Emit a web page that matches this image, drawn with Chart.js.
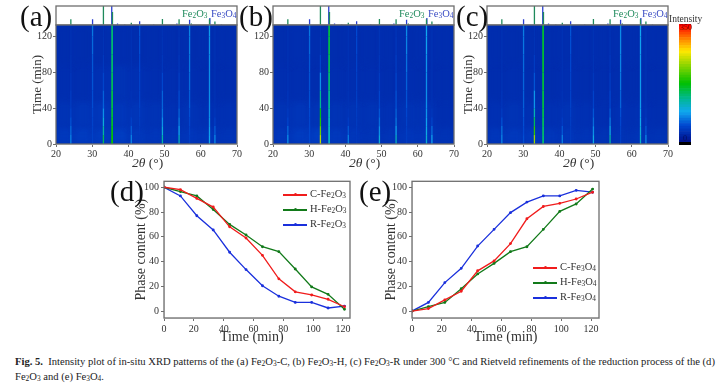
<!DOCTYPE html>
<html>
<head>
<meta charset="utf-8">
<script src="https://cdn.jsdelivr.net/npm/chart.js@4"></script>
<style>
  body { margin: 0; background: #fff; width: 723px; height: 386px; overflow: hidden; position: relative;
         font-family: "Liberation Serif", serif; color: #222; }
  canvas { position: absolute; }
  .t { position: absolute; white-space: nowrap; line-height: 1; }
  .panel { font-size: 29px; color: #111; }
  .fe2 { font-size: 10.5px; color: #1f8a5c; }
  .fe3 { font-size: 10.5px; color: #3a4cc4; }
  .xt { font-size: 13.5px; color: #333; }
  .leg { font-size: 10.5px; color: #333; }
  .swatch { position: absolute; height: 1.5px; width: 24px; }
  .dot { position: absolute; width: 3px; height: 3px; border-radius: 50%; }
  sub { font-size: 70%; line-height: 0; vertical-align: -0.2em; }
  #cap { font-size: 10.6px; color: #222; line-height: 14.5px; left: 15px; top: 355px; }
</style>
</head>
<body>
<canvas id="stripA"></canvas><canvas id="heatA"></canvas>
<canvas id="stripB"></canvas><canvas id="heatB"></canvas>
<canvas id="stripC"></canvas><canvas id="heatC"></canvas>
<canvas id="scaleBar"></canvas>
<canvas id="lineD"></canvas><canvas id="lineE"></canvas>

<div class="t panel" style="left:20px;top:2px">(a)</div>
<div class="t panel" style="left:239px;top:2px">(b)</div>
<div class="t panel" style="left:456px;top:2px">(c)</div>
<div class="t panel" style="left:110px;top:177px">(d)</div>
<div class="t panel" style="left:359px;top:177px">(e)</div>

<div class="t fe2" style="left:182px;top:9px">Fe<sub>2</sub>O<sub>3</sub></div>
<div class="t fe3" style="left:211px;top:9px">Fe<sub>3</sub>O<sub>4</sub></div>
<div class="t fe2" style="left:399px;top:9px">Fe<sub>2</sub>O<sub>3</sub></div>
<div class="t fe3" style="left:428px;top:9px">Fe<sub>3</sub>O<sub>4</sub></div>
<div class="t fe2" style="left:613px;top:9px">Fe<sub>2</sub>O<sub>3</sub></div>
<div class="t fe3" style="left:642px;top:9px">Fe<sub>3</sub>O<sub>4</sub></div>

<div class="t xt" style="left:132px;top:156px"><i>2θ</i> (°)</div>
<div class="t xt" style="left:349px;top:156px"><i>2θ</i> (°)</div>
<div class="t xt" style="left:563px;top:156px"><i>2θ</i> (°)</div>

<div class="t" style="left:669px;top:15px;font-size:9.5px;color:#333">Intensity</div>
<div class="t" style="left:680px;top:24px;font-size:8px;color:#7a0000">350</div>
<div class="t" style="left:683px;top:135px;font-size:8px;color:#001060">0</div>

<div id="legendD"></div>
<div id="legendE"></div>

<div class="t" id="cap"><b>Fig. 5.</b>&nbsp; Intensity plot of in-situ XRD patterns of the (a) Fe<sub>2</sub>O<sub>3</sub>-C, (b) Fe<sub>2</sub>O<sub>3</sub>-H, (c) Fe<sub>2</sub>O<sub>3</sub>-R under 300 °C and Rietveld refinements of the reduction process of the (d)<br>Fe<sub>2</sub>O<sub>3</sub> and (e) Fe<sub>3</sub>O<sub>4</sub>.</div>

<script>
// stick patterns above the maps, relative intensity
const fe2o3Angles = [24.1, 33.1, 35.6, 40.8, 49.4, 54.0, 57.4, 62.4, 63.9];
const fe2o3Rel = [30, 100, 68, 12, 32, 30, 8, 30, 18];
const fe3o4Angles = [30.1, 35.4, 37.0, 39.0, 43.1, 47.0, 53.4, 56.9, 62.5, 65.7];
const fe3o4Rel = [30, 100, 8, 3, 20, 2, 8, 27, 37, 3];

// in-situ maps: intensity of each reflection at each time row
const mapTimes = [0, 10, 20, 30, 40, 60, 80, 100, 120, 133];
const streakAngles = [24.1, 30.1, 33.1, 35.5, 40.8, 43.1, 49.4, 54.0, 56.9, 62.4, 63.9];
const streakA = [
  [80, 70, 60, 48, 42, 36, 32, 30, 30, 30],
  [45, 42, 45, 45, 48, 55, 55, 58, 70, 70],
  [160, 135, 110, 90, 70, 52, 40, 32, 30, 30],
  [180, 175, 165, 160, 155, 150, 145, 140, 140, 140],
  [80, 70, 48, 38, 32, 30, 30, 30, 30, 30],
  [36, 36, 38, 40, 42, 45, 45, 50, 55, 55],
  [135, 110, 90, 70, 65, 58, 36, 32, 30, 30],
  [125, 100, 80, 65, 58, 45, 38, 32, 30, 30],
  [40, 42, 45, 50, 55, 62, 68, 72, 75, 75],
  [90, 90, 85, 80, 80, 80, 80, 80, 85, 85],
  [85, 70, 48, 36, 32, 30, 30, 30, 30, 30]
];
const streakB = [
  [85, 75, 52, 40, 36, 32, 30, 30, 30, 30],
  [48, 48, 48, 48, 52, 55, 55, 58, 70, 70],
  [255, 235, 195, 180, 155, 105, 55, 36, 30, 30],
  [110, 110, 110, 115, 125, 135, 145, 150, 155, 155],
  [80, 68, 45, 36, 32, 30, 30, 30, 30, 30],
  [36, 36, 38, 38, 40, 42, 42, 46, 50, 50],
  [110, 90, 70, 60, 52, 42, 36, 32, 32, 32],
  [120, 100, 75, 65, 58, 50, 42, 36, 32, 32],
  [40, 40, 42, 45, 50, 58, 62, 72, 78, 78],
  [105, 100, 90, 85, 80, 80, 80, 85, 90, 90],
  [95, 80, 52, 38, 32, 30, 30, 30, 30, 30]
];
const streakC = [
  [80, 72, 65, 42, 36, 32, 30, 30, 30, 30],
  [55, 50, 50, 55, 58, 62, 62, 68, 72, 72],
  [245, 220, 165, 130, 100, 65, 45, 32, 30, 30],
  [140, 140, 145, 150, 155, 155, 160, 160, 160, 160],
  [80, 68, 45, 36, 32, 30, 30, 30, 30, 30],
  [38, 38, 38, 42, 42, 45, 45, 50, 55, 55],
  [100, 90, 70, 60, 52, 38, 32, 30, 30, 30],
  [130, 110, 80, 65, 52, 42, 36, 32, 30, 30],
  [42, 42, 45, 50, 55, 68, 72, 78, 78, 78],
  [110, 105, 95, 90, 85, 85, 85, 85, 90, 90],
  [85, 68, 45, 36, 32, 30, 30, 30, 30, 30]
];

// slowly varying background level of the maps
const bgAngles = [20, 25, 30, 35, 40, 45, 50, 55, 60, 65, 70];
const bgTimes = [0, 20, 50, 90, 133];
const bgA = [
  [36, 38, 38, 40, 36, 34, 32, 34, 34, 32],
  [31, 33, 34, 34, 33, 31, 29, 31, 29, 29],
  [27, 27, 29, 31, 29, 27, 27, 27, 26, 26],
  [26, 26, 26, 27, 26, 26, 26, 26, 26, 26]
];
const bgB = [
  [34, 38, 40, 36, 34, 32, 32, 34, 34, 31],
  [31, 33, 31, 31, 31, 31, 29, 31, 31, 27],
  [27, 27, 26, 27, 27, 27, 26, 27, 26, 26],
  [26, 27, 26, 26, 26, 26, 26, 26, 26, 26]
];
const bgC = [
  [34, 36, 36, 34, 34, 32, 31, 31, 32, 31],
  [29, 31, 29, 29, 31, 29, 27, 29, 29, 27],
  [26, 27, 26, 26, 27, 26, 26, 26, 26, 26],
  [26, 26, 26, 26, 26, 26, 26, 26, 26, 26]
];

// refinement results
const refineTimes = [0, 11, 22, 33, 44, 55, 66, 77, 88, 99, 110, 121];
const cFe2o3 = [100, 98, 91, 84, 68, 59, 45, 26, 15.5, 13, 9.5, 3.5];
const hFe2o3 = [100, 96.5, 93, 82, 70, 61.5, 52, 48, 34, 19.5, 13.5, 1.5];
const rFe2o3 = [100, 93, 77, 65.5, 47.5, 33.5, 20.5, 12, 7, 7, 2.5, 4];
const cFe3o4 = [0, 2, 9, 16, 32.5, 40.5, 54.5, 74.5, 84.5, 87, 90.5, 96];
const hFe3o4 = [0, 3.5, 7, 18, 30, 38.5, 48, 52, 66, 80.5, 86.5, 98.5];
const rFe3o4 = [0, 7, 23, 34.5, 52.5, 66, 79.5, 88, 93, 93, 97.5, 96];

const angleTicks = [20, 30, 40, 50, 60, 70];
const timeTicks = [0, 40, 80, 120];
const refineXTicks = [0, 20, 40, 60, 80, 100, 120];
const phaseTicks = [0, 20, 40, 60, 80, 100];

// colour bar stops: intensity, rgb
const cmapLevels = [0, 50, 90, 130, 175, 235, 270, 305, 340, 350];
const cmapColors = [[0,16,138],[0,72,208],[16,168,240],[0,184,144],[0,192,0],[160,216,0],[255,232,0],[255,136,0],[255,24,0],[255,0,0]];

const fontFamily = '"Liberation Serif", serif';
const frameColor = '#6e6e6e';
const tickColor = '#333';

function intensityColor(v) {
  let i = 0;
  while (i < cmapLevels.length - 2 && v > cmapLevels[i + 1]) i++;
  const f = Math.min(1, Math.max(0, (v - cmapLevels[i]) / (cmapLevels[i + 1] - cmapLevels[i])));
  const c = cmapColors[i].map((a, k) => Math.round(a + (cmapColors[i + 1][k] - a) * f));
  return `rgb(${c[0]},${c[1]},${c[2]})`;
}

function place(id, left, top, width, height) {
  const c = document.getElementById(id);
  c.width = width;
  c.height = height;
  c.style.left = left + 'px';
  c.style.top = top + 'px';
  return c;
}

// chart.js adds half a tick label of padding, which would move the plot area
function noPadding(s) {
  s.paddingTop = 0;
  s.paddingBottom = 0;
  s.paddingLeft = 0;
  s.paddingRight = 0;
}

// grey box round the plot area
const framePlugin = {
  id: 'frame',
  afterDraw(chart) {
    const a = chart.chartArea, ctx = chart.ctx;
    ctx.save();
    ctx.strokeStyle = frameColor;
    ctx.lineWidth = 1.3;
    ctx.strokeRect(a.left, a.top, a.right - a.left, a.bottom - a.top);
    ctx.restore();
  }
};

// background cells of the map, placed through the chart's scales
const mapBackground = {
  id: 'mapBackground',
  beforeDatasetsDraw(chart, args, opts) {
    const ctx = chart.ctx, x = chart.scales.x, y = chart.scales.y, a = chart.chartArea;
    ctx.save();
    ctx.fillStyle = intensityColor(28);
    ctx.fillRect(a.left, a.top, a.right - a.left, a.bottom - a.top);
    ctx.beginPath();
    ctx.rect(a.left, a.top, a.right - a.left, a.bottom - a.top);
    ctx.clip();
    ctx.filter = 'blur(3px)';
    opts.rows.forEach((row, r) => {
      row.forEach((v, c) => {
        const x0 = x.getPixelForValue(bgAngles[c]), x1 = x.getPixelForValue(bgAngles[c + 1]);
        const y0 = y.getPixelForValue(bgTimes[r]), y1 = y.getPixelForValue(bgTimes[r + 1]);
        ctx.fillStyle = intensityColor(v);
        ctx.fillRect(x0, y1, x1 - x0 + 0.5, y0 - y1 + 0.5);
      });
    });
    ctx.restore();
    // soften the reflections a little
    ctx.filter = 'blur(0.5px)';
  },
  afterDatasetsDraw(chart) {
    chart.ctx.filter = 'none';
  }
};

function stickData(angles, rel) {
  const pts = [];
  angles.forEach((a, i) => {
    pts.push({ x: a, y: 0 }, { x: a, y: rel[i] }, { x: a, y: null });
  });
  return pts;
}

function makeStrip(id, left) {
  const c = place(id, left - 1, 5, 183, 21);
  new Chart(c, {
    type: 'scatter',
    data: {
      datasets: [
        { data: stickData(fe2o3Angles, fe2o3Rel), showLine: true, borderColor: '#1f8a5c', borderWidth: 1.3, pointRadius: 0, spanGaps: false },
        { data: stickData(fe3o4Angles, fe3o4Rel), showLine: true, borderColor: '#2a3fd0', borderWidth: 1.3, pointRadius: 0, spanGaps: false }
      ]
    },
    options: {
      responsive: false, animation: false, devicePixelRatio: 1,
      layout: { padding: 1 },
      plugins: { legend: { display: false }, tooltip: { enabled: false } },
      scales: {
        x: { display: false, min: 20, max: 70 },
        y: { display: false, min: 0, max: 100 }
      }
    },
    plugins: [framePlugin]
  });
}

function makeHeat(id, left, streaks, bgRows, withTitle) {
  const c = place(id, left - 32, 24, 32 + 181 + 9, 138);
  const datasets = streakAngles.map((a, i) => ({
    data: mapTimes.map((t, k) => ({ x: a, y: t, v: streaks[i][k] })),
    showLine: true,
    pointRadius: 0,
    borderWidth: a === 35.5 ? 1.8 : 1.3,
    segment: { borderColor: ctx => intensityColor((ctx.p0.raw.v + ctx.p1.raw.v) / 2) }
  }));
  new Chart(c, {
    type: 'scatter',
    data: { datasets },
    options: {
      responsive: false, animation: false, devicePixelRatio: 1,
      layout: { padding: { top: 1, right: 9 } },
      plugins: { legend: { display: false }, tooltip: { enabled: false }, mapBackground: { rows: bgRows } },
      scales: {
        x: {
          type: 'linear', min: 20, max: 70,
          afterBuildTicks: s => { s.ticks = angleTicks.map(v => ({ value: v })); },
          afterFit: s => { s.height = 18; noPadding(s); },
          grid: { drawOnChartArea: false, color: frameColor, tickLength: 3 },
          ticks: { color: tickColor, font: { family: fontFamily, size: 10 }, padding: 1, maxRotation: 0 }
        },
        y: {
          type: 'linear', min: 0, max: 133,
          afterBuildTicks: s => { s.ticks = timeTicks.map(v => ({ value: v })); },
          afterFit: s => { s.width = 32; noPadding(s); },
          grid: { drawOnChartArea: false, color: frameColor, tickLength: 3 },
          ticks: { color: tickColor, font: { family: fontFamily, size: 10 }, padding: 1 },
          title: { display: withTitle, text: 'Time (min)', color: tickColor, font: { family: fontFamily, size: 13 }, padding: { top: 6, bottom: 0 } }
        }
      }
    },
    plugins: [mapBackground, framePlugin]
  });
}

function makeColorBar() {
  const c = place('scaleBar', 679, 24, 12, 121);
  const levels = [];
  for (let v = 0; v < 350; v += 8) levels.push(v);
  const datasets = [{ data: [8], backgroundColor: '#000', stack: 's' }].concat(
    levels.map(v => ({ data: [8], backgroundColor: intensityColor(v + 4), stack: 's' }))
  );
  new Chart(c, {
    type: 'bar',
    data: { labels: ['Intensity'], datasets },
    options: {
      responsive: false, animation: false, devicePixelRatio: 1,
      datasets: { bar: { barPercentage: 1, categoryPercentage: 1, borderSkipped: false } },
      plugins: { legend: { display: false }, tooltip: { enabled: false } },
      scales: {
        x: { display: false, stacked: true },
        y: { display: false, stacked: true, min: 0, max: 360 }
      }
    }
  });
}

function makeRefine(id, legendId, left, yWidth, plotWidth, xMax, xTitle, names, series, legendPos) {
  // the layout keeps 4px more at the top here, so the canvas starts higher
  const c = place(id, left, 176, yWidth + plotWidth + 9, 5 + 137 + 31);
  const colors = ['#f01c1c', '#127a1a', '#1a30dc'];
  const chart = new Chart(c, {
    type: 'line',
    data: {
      datasets: series.map((vals, i) => ({
        label: names[i],
        data: vals.map((v, k) => ({ x: refineTimes[k], y: v })),
        borderColor: colors[i],
        backgroundColor: colors[i],
        borderWidth: 1.3,
        pointRadius: 0.8,
        tension: 0
      }))
    },
    options: {
      responsive: false, animation: false, devicePixelRatio: 1,
      layout: { padding: { top: 1, right: 9 } },
      plugins: { legend: { display: false }, tooltip: { enabled: false } },
      scales: {
        x: {
          type: 'linear', min: 0, max: xMax,
          afterBuildTicks: s => { s.ticks = refineXTicks.map(v => ({ value: v })); },
          afterFit: s => { s.height = 31; noPadding(s); },
          grid: { drawOnChartArea: false, color: frameColor, tickLength: 3 },
          ticks: { color: tickColor, font: { family: fontFamily, size: 10 }, padding: 2, maxRotation: 0 },
          title: { display: true, text: xTitle, color: tickColor, font: { family: fontFamily, size: 14 }, padding: { top: 0, bottom: 3 } }
        },
        y: {
          type: 'linear', min: -5.6, max: 104.8,
          afterBuildTicks: s => { s.ticks = phaseTicks.map(v => ({ value: v })); },
          afterFit: s => { s.width = yWidth; noPadding(s); },
          grid: { drawOnChartArea: false, color: frameColor, tickLength: 3 },
          ticks: { color: tickColor, font: { family: fontFamily, size: 10 }, padding: 2 },
          title: { display: true, text: 'Phase content (%)', color: tickColor, font: { family: fontFamily, size: 14 }, padding: { top: 0, bottom: 0 } }
        }
      }
    },
    plugins: [framePlugin]
  });
  // html legend, needs real subscripts
  const box = document.getElementById(legendId);
  chart.data.datasets.forEach((ds, i) => {
    const s = document.createElement('div');
    s.className = 'swatch';
    s.style.left = legendPos.x + 'px';
    s.style.top = legendPos.ys[i] + 'px';
    s.style.background = ds.borderColor;
    box.appendChild(s);
    const d = document.createElement('div');
    d.className = 'dot';
    d.style.left = (legendPos.x + 10.5) + 'px';
    d.style.top = (legendPos.ys[i] - 0.75) + 'px';
    d.style.background = ds.borderColor;
    box.appendChild(d);
    const t = document.createElement('div');
    t.className = 't leg';
    t.style.left = (legendPos.x + 27) + 'px';
    t.style.top = (legendPos.ys[i] - 5) + 'px';
    t.innerHTML = ds.label.replace(/(\d)/g, '<sub>$1</sub>');
    box.appendChild(t);
  });
}

makeStrip('stripA', 56);
makeStrip('stripB', 273);
makeStrip('stripC', 487);
makeHeat('heatA', 56, streakA, bgA, true);
makeHeat('heatB', 273, streakB, bgB, false);
makeHeat('heatC', 487, streakC, bgC, true);
makeColorBar();
makeRefine('lineD', 'legendD', 133, 31, 186, 124.7, 'Time (min)\u00a0\u00a0\u00a0', ['C-Fe2O3', 'H-Fe2O3', 'R-Fe2O3'], [cFe2o3, hFe2o3, rFe2o3], { x: 283, ys: [194, 209, 224] });
makeRefine('lineE', 'legendE', 383, 29, 187, 125.3, 'Time (min)', ['C-Fe3O4', 'H-Fe3O4', 'R-Fe3O4'], [cFe3o4, hFe3o4, rFe3o4], { x: 533, ys: [267, 282, 297] });
</script>
</body>
</html>
